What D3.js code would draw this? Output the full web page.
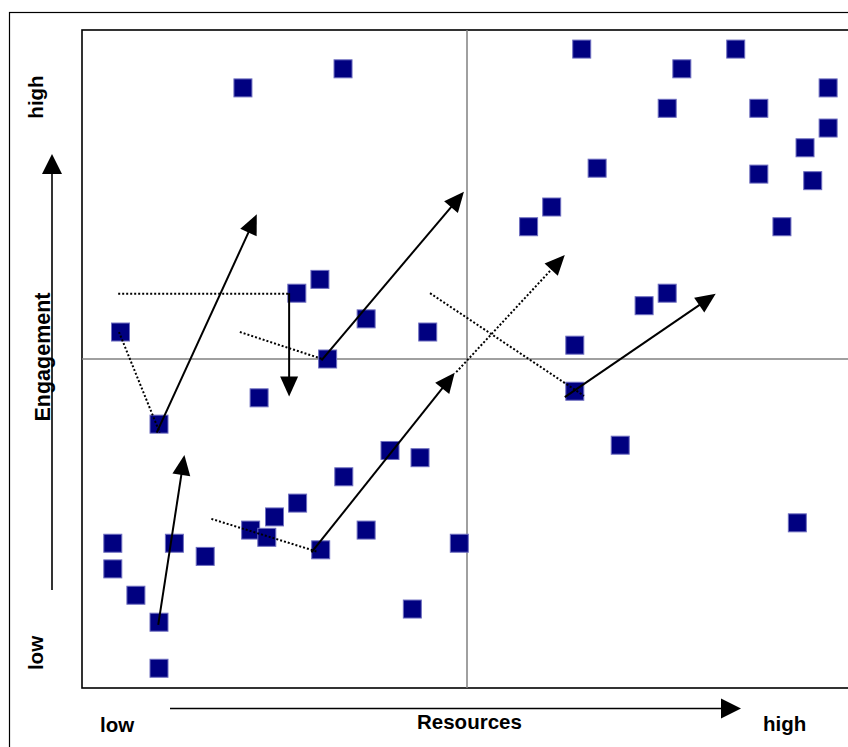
<!DOCTYPE html>
<html>
<head>
<meta charset="utf-8">
<script src="https://cdn.jsdelivr.net/npm/d3@7"></script>
<style>
  html, body { margin: 0; padding: 0; background: #fff; overflow: hidden; }
  svg { display: block; }
  text { font-family: "Liberation Sans", Arial, sans-serif; font-weight: bold; fill: #000; }
</style>
</head>
<body>
<svg id="chart" width="848" height="747"></svg>
<script>
// ---- data (Resources on x, Engagement on y, 0..100 scale) ----
const resources = [20.9, 33.9, 5.0, 27.9, 30.9, 36.9, 44.9, 31.9, 23.0, 10.0,
                   40.0, 43.9, 34.0, 28.0, 25.0, 21.9, 24.0, 36.9, 31.0, 49.0,
                   42.9, 16.0, 12.0, 4.0, 4.0, 7.0, 10.0, 10.0,
                   64.9, 84.9, 77.9, 96.9, 76.0, 87.9, 96.9, 93.9, 66.9, 87.9,
                   94.9, 61.0, 58.0, 90.9, 73.0, 76.0, 64.0, 64.0, 69.9, 92.9];
const engagement = [91.2, 94.1, 54.1, 60.0, 62.1, 56.1, 54.1, 50.0, 44.1, 40.1,
                    36.1, 35.0, 32.1, 28.1, 26.0, 24.0, 22.9, 24.0, 21.0, 22.0,
                    12.0, 20.0, 22.0, 22.0, 18.1, 14.1, 10.0, 3.0,
                    97.1, 97.1, 94.1, 91.2, 88.1, 88.1, 85.1, 82.1, 79.0, 78.1,
                    77.1, 73.1, 70.1, 70.1, 58.1, 60.0, 52.1, 45.1, 36.9, 25.1];

// movement arrows: [x1, y1, x2, y2] (data units), solid
const solidArrows = [
  [9.9, 9.6, 13.3, 35.4],
  [9.7, 38.8, 22.7, 72.0],
  [31.1, 49.8, 49.6, 75.4],
  [26.9, 60.0, 26.9, 44.3],
  [29.8, 20.6, 48.4, 47.9],
  [62.7, 44.2, 82.3, 59.9]
];
// dotted arrows
const dottedArrows = [
  [48.6, 48.0, 62.7, 65.8]
];
// dotted connector lines (no head)
const dottedLines = [
  [4.7, 59.9, 26.9, 59.9],
  [4.8, 54.1, 10.1, 38.8],
  [20.5, 54.1, 31.2, 50.0],
  [45.2, 60.0, 65.2, 44.4],
  [16.8, 25.7, 30.6, 20.7]
];
const axisLow = "low", axisHigh = "high";
const xTitle = "Resources", yTitle = "Engagement";

// ---- layout ----
const svg = d3.select("#chart");
const L = 82, T = 30, R = 852, B = 688;
const x = d3.scaleLinear().domain([0, 100]).range([L, R]);
const y = d3.scaleLinear().domain([0, 100]).range([B, T]);

// outer border
svg.append("rect").attr("x", 9.5).attr("y", 12.5).attr("width", 900).attr("height", 800)
  .attr("fill", "none").attr("stroke", "#000").attr("stroke-width", 1.2);

// plot frame
svg.append("rect").attr("x", L).attr("y", T).attr("width", 820).attr("height", B - T)
  .attr("fill", "#fff").attr("stroke", "#000").attr("stroke-width", 1.6);

// quadrant lines
svg.append("line").attr("x1", x(50)).attr("x2", x(50)).attr("y1", T).attr("y2", B)
  .attr("stroke", "#808080").attr("stroke-width", 1.5);
svg.append("line").attr("x1", L).attr("x2", 900).attr("y1", y(50)).attr("y2", y(50))
  .attr("stroke", "#808080").attr("stroke-width", 1.5);

// markers
const S = 18;
svg.append("g").selectAll("rect").data(resources.map((r, i) => [r, engagement[i]]))
  .join("rect")
  .attr("x", d => x(d[0]) - S / 2).attr("y", d => y(d[1]) - S / 2)
  .attr("width", S).attr("height", S)
  .attr("fill", "#000080").attr("stroke", "#6f6fc0").attr("stroke-width", 1);

// arrows helper
function arrow(g, x1, y1, x2, y2, dotted, head) {
  const len = Math.hypot(x2 - x1, y2 - y1);
  const ux = (x2 - x1) / len, uy = (y2 - y1) / len;
  const HL = 20, HW = 9;
  const ex = head ? x2 - ux * HL * 0.6 : x2, ey = head ? y2 - uy * HL * 0.6 : y2;
  const ln = g.append("line").attr("x1", x1).attr("y1", y1).attr("x2", ex).attr("y2", ey)
    .attr("stroke", "#000").attr("stroke-width", 2);
  if (dotted) ln.attr("stroke-dasharray", "2,2");
  if (head) {
    const bx = x2 - ux * HL, by = y2 - uy * HL;
    const px = -uy, py = ux;
    g.append("path")
      .attr("d", `M${x2},${y2}L${bx + px * HW},${by + py * HW}L${bx - px * HW},${by - py * HW}Z`)
      .attr("fill", "#000");
  }
}
const ag = svg.append("g");
dottedLines.forEach(d => arrow(ag, x(d[0]), y(d[1]), x(d[2]), y(d[3]), true, false));
dottedArrows.forEach(d => arrow(ag, x(d[0]), y(d[1]), x(d[2]), y(d[3]), true, true));
solidArrows.forEach(d => arrow(ag, x(d[0]), y(d[1]), x(d[2]), y(d[3]), false, true));

// axis direction arrows (decorative)
function plainArrow(x1, y1, x2, y2) {
  const len = Math.hypot(x2 - x1, y2 - y1);
  const ux = (x2 - x1) / len, uy = (y2 - y1) / len;
  const HL = 20, HW = 10;
  svg.append("line").attr("x1", x1).attr("y1", y1)
    .attr("x2", x2 - ux * HL * 0.7).attr("y2", y2 - uy * HL * 0.7)
    .attr("stroke", "#000").attr("stroke-width", 1.6);
  const bx = x2 - ux * HL, by = y2 - uy * HL, px = -uy, py = ux;
  svg.append("path")
    .attr("d", `M${x2},${y2}L${bx + px * HW},${by + py * HW}L${bx - px * HW},${by - py * HW}Z`)
    .attr("fill", "#000");
}
plainArrow(52, 590, 52, 154);
plainArrow(170, 708.5, 741, 708.5);

// axis texts
svg.append("text").attr("transform", "translate(43,97) rotate(-90)")
  .attr("text-anchor", "middle").style("font-size", "20.5px").text(axisHigh);
svg.append("text").attr("transform", "translate(43,653) rotate(-90)")
  .attr("text-anchor", "middle").style("font-size", "20.5px").text(axisLow);
svg.append("text").attr("transform", "translate(50,357) rotate(-90)")
  .attr("text-anchor", "middle").style("font-size", "21.5px").text(yTitle);
svg.append("text").attr("x", 100).attr("y", 731.5).style("font-size", "20.5px").text(axisLow);
svg.append("text").attr("x", 763).attr("y", 731).style("font-size", "20.5px").text(axisHigh);
svg.append("text").attr("x", 417).attr("y", 728.5).style("font-size", "20.5px").text(xTitle);
</script>
</body>
</html>
